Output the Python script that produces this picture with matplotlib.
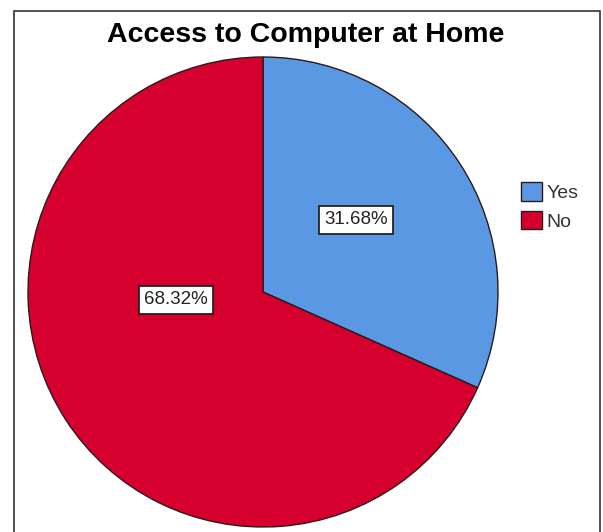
import matplotlib.pyplot as plt
from matplotlib.patches import Rectangle

labels = ['Yes', 'No']
values = [31.68, 68.32]
colors = ['#5A98E4', '#D6002E']

plt.rcParams['font.family'] = ['Liberation Sans', 'DejaVu Sans']

W, H = 603, 532
fig = plt.figure(figsize=(W / 100, H / 100), dpi=100)

# outer frame (bottom edge runs off the image)
fig.patches.append(Rectangle((14 / W, -0.05), 586 / W, 1.05 - 11 / H,
                             transform=fig.transFigure, fill=False,
                             edgecolor='#333333', linewidth=1.2))

cx, cy, r = 263, 292, 235
ax = fig.add_axes([(cx - r) / W, (H - cy - r) / H, 2 * r / W, 2 * r / H])
wedges, _ = ax.pie(values, colors=colors, startangle=90, counterclock=False,
                   radius=1, wedgeprops=dict(edgecolor='#2a1a1a', linewidth=1))
ax.set_xlim(-1, 1)
ax.set_ylim(-1, 1)
ax.set_aspect('equal')
ax.axis('off')

# value labels in boxes
label_pos = [(356, 220), (176, 300)]
for v, (px, py) in zip(values, label_pos):
    ax.text((px - cx) / r, (cy - py) / r, f'{v:.2f}%', fontsize=13.5,
            ha='center', va='center', color='#222222',
            bbox=dict(boxstyle='square,pad=0.28', facecolor='white',
                      edgecolor='#222222', linewidth=1.3))

fig.text(306 / W, 1 - 35 / H, 'Access to Computer at Home', ha='center',
         va='center', fontsize=20.5, fontweight='bold')

leg = fig.legend(wedges, labels, loc='upper left',
                 bbox_to_anchor=(521 / W, 1 - 182 / H), frameon=False,
                 fontsize=14, handlelength=1.1, handleheight=1.1,
                 handletextpad=0.2, labelspacing=0.45, borderaxespad=0,
                 borderpad=0)
for t in leg.get_texts():
    t.set_color('#333333')

fig.savefig('out.png', dpi=100)
